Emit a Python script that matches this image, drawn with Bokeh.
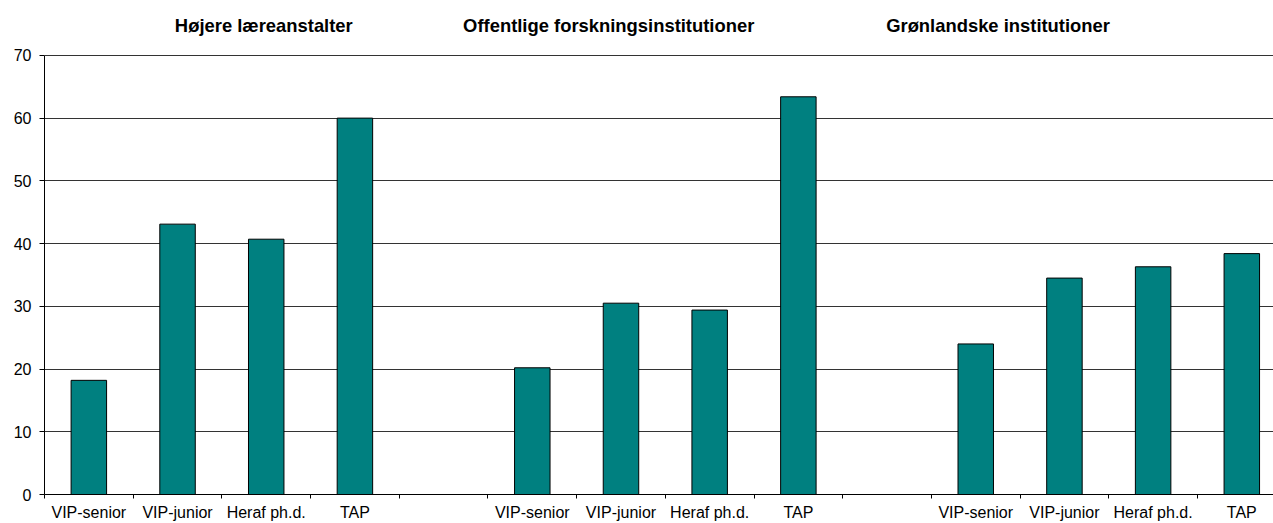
from bokeh.plotting import figure
from bokeh.models import Range1d, FixedTicker
from bokeh.core.properties import value
from bokeh.embed import file_html
from bokeh.resources import INLINE

# ---- data ----
groups = ["Højere læreanstalter", "Offentlige forskningsinstitutioner", "Grønlandske institutioner"]
categories = ["VIP-senior", "VIP-junior", "Heraf ph.d.", "TAP"]
hoejere = [18.2, 43.1, 40.7, 60.0]
offentlige = [20.2, 30.5, 29.4, 63.4]
groenlandske = [24.0, 34.5, 36.3, 38.4]
y_ticks = [0, 10, 20, 30, 40, 50, 60, 70]

series = [hoejere, offentlige, groenlandske]

# slot layout: 4 bars per group, one empty slot between groups
xs, tops, labels = [], [], []
for gi, vals in enumerate(series):
    for ci, v in enumerate(vals):
        slot = gi * 5 + ci
        xs.append(slot + 0.5)
        tops.append(v)
        labels.append(categories[ci])

n_slots = 14
slot_px = 88.69
frame_w = 1273 - 44
frame_h = 495
px_per_unit = 440.0 / 70

p = figure(width=1273, height=523, output_backend="svg", toolbar_location=None,
           x_range=Range1d(0, frame_w / slot_px), y_range=Range1d(0, frame_h / px_per_unit),
           min_border_left=44, min_border_right=0, min_border_top=0, min_border_bottom=28)
p.outline_line_color = None
p.background_fill_color = "white"
p.border_fill_color = "white"

p.vbar(x=xs, top=tops, width=0.4, bottom=0, fill_color="#008080", line_color="black", line_width=1)

# y axis
p.yaxis.ticker = FixedTicker(ticks=y_ticks)
p.yaxis.bounds = (0, 70)
p.yaxis.axis_line_color = "black"
p.yaxis.major_tick_line_color = "black"
p.yaxis.major_tick_out = 5
p.yaxis.major_tick_in = 0
p.yaxis.minor_tick_line_color = None
p.yaxis.major_label_text_font = "Liberation Sans"
p.yaxis.major_label_text_font_size = "16px"
p.yaxis.major_label_text_color = "black"
p.yaxis.major_label_standoff = 8

# x axis: labels at slot centers, ticks at slot boundaries
p.xaxis.ticker = FixedTicker(ticks=xs, minor_ticks=list(range(0, n_slots + 1)))
p.xaxis.major_label_overrides = {x: l for x, l in zip(xs, labels)}
p.xaxis.axis_line_color = "black"
p.xaxis.major_tick_line_color = None
p.xaxis.major_tick_out = 0
p.xaxis.major_tick_in = 0
p.xaxis.minor_tick_line_color = "black"
p.xaxis.minor_tick_out = 4
p.xaxis.minor_tick_in = 0
p.xaxis.major_label_text_font = "Liberation Sans"
p.xaxis.major_label_text_font_size = "16px"
p.xaxis.major_label_text_color = "black"
p.xaxis.major_label_standoff = 5

p.xgrid.grid_line_color = None
p.ygrid.ticker = FixedTicker(ticks=y_ticks)
p.ygrid.grid_line_color = "#333333"
p.ygrid.grid_line_width = 1

# group titles
title_x = [1.47, 4.72, 9.49]
title_y = (frame_h - 25) / px_per_unit
p.text(x=title_x, y=[title_y] * 3, text=groups, text_font=value("Liberation Sans"),
       text_font_size="18.4px", text_font_style="bold", text_color="black",
       text_baseline="alphabetic", text_align="left")

open("out.html", "w").write(file_html(p, INLINE))
